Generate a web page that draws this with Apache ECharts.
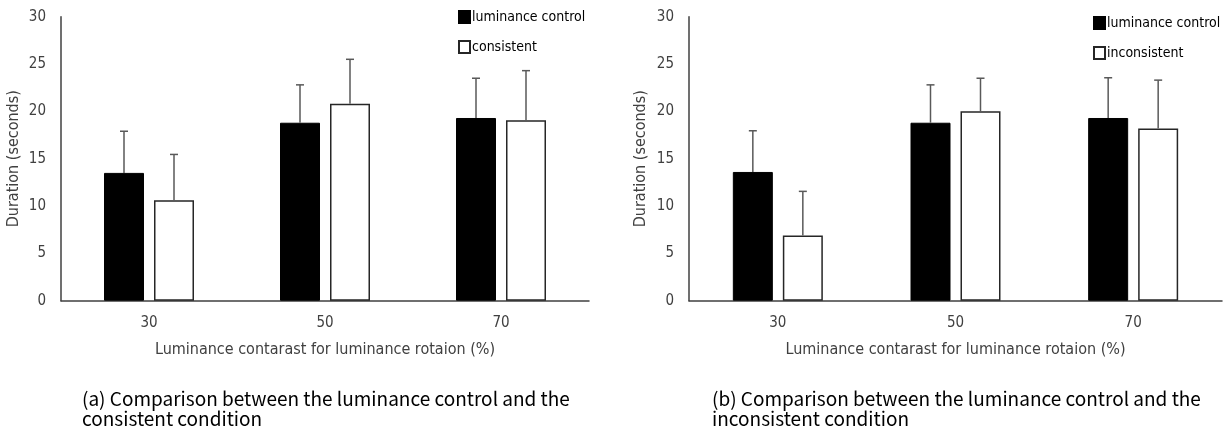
<!DOCTYPE html>
<html>
<head>
<meta charset="utf-8">
<script src="https://cdn.jsdelivr.net/npm/echarts@6/dist/echarts.min.js"></script>
<style>
html,body{margin:0;padding:0;background:#fff;}
#chart{width:1226px;height:430px;}
</style>
</head>
<body>
<div id="chart"></div>
<script>
// ---- data ----
var categories = ['30', '50', '70'];
var yTicks = [0, 5, 10, 15, 20, 25, 30];
var controlA = [13.5, 18.8, 19.3];
var controlErrA = [4.4, 4.0, 4.2];
var consistent = [10.6, 20.8, 19.05];
var consistentErr = [4.85, 4.7, 5.25];
var controlB = [13.6, 18.8, 19.3];
var controlErrB = [4.35, 4.0, 4.25];
var inconsistent = [6.9, 20.0, 18.2];
var inconsistentErr = [4.65, 3.5, 5.1];
var xName = 'Luminance contarast for luminance rotaion (%)';
var yName = 'Duration (seconds)';
var captionA = '(a) Comparison between the luminance control and the\nconsistent condition';
var captionB = '(b) Comparison between the luminance control and the\ninconsistent condition';

// ---- styles ----
var FONT = "'DejaVu Sans Condensed','Liberation Sans',sans-serif";
var CAP_FONT = "'Noto Sans CJK JP','Noto Sans',sans-serif";
var BAR_W = 40;
var GAP = 0.25;
var AXIS_COLOR = '#404040';
var TEXT_COLOR = '#404040';
var ERR_COLOR = '#595959';

function errData(vals, errs) {
  return vals.map(function (v, i) { return [i, v, errs[i]]; });
}
function errSeries(idx, vals, errs, side) {
  return {
    type: 'custom',
    xAxisIndex: idx, yAxisIndex: idx,
    silent: true, z: 5,
    data: errData(vals, errs),
    renderItem: function (params, api) {
      var c = api.value(0), v = api.value(1), e = api.value(2);
      var p0 = api.coord([c, v]);
      var p1 = api.coord([c, v + e]);
      var off = side * BAR_W * (1 + GAP) / 2;
      var x = p0[0] + off;
      var cap = 4;
      var st = { stroke: ERR_COLOR, lineWidth: 1.5 };
      return {
        type: 'group',
        children: [
          { type: 'line', shape: { x1: x, y1: p0[1], x2: x, y2: p1[1] }, style: st },
          { type: 'line', shape: { x1: x - cap, y1: p1[1], x2: x + cap, y2: p1[1] }, style: st }
        ]
      };
    }
  };
}
function xAxisCfg(idx) {
  return {
    type: 'category', gridIndex: idx, data: categories,
    axisLine: { lineStyle: { color: AXIS_COLOR, width: 1.5 } },
    axisTick: { show: false },
    axisLabel: { color: TEXT_COLOR, fontSize: 15, fontFamily: FONT, margin: 15 },
    name: xName, nameLocation: 'middle', nameGap: 41,
    nameTextStyle: { color: TEXT_COLOR, fontSize: 16, fontFamily: FONT }
  };
}
function yAxisCfg(idx, gap) {
  return {
    type: 'value', gridIndex: idx, min: 0, max: 30, interval: 5,
    axisLine: { show: true, lineStyle: { color: AXIS_COLOR, width: 1.5 } },
    axisTick: { show: false },
    splitLine: { show: false },
    axisLabel: { color: TEXT_COLOR, fontSize: 15, fontFamily: FONT, margin: 15,
      formatter: function (v) { return yTicks.indexOf(v) >= 0 ? String(v) : ''; } },
    name: yName, nameLocation: 'middle', nameGap: gap, nameRotate: 90,
    nameTextStyle: { color: TEXT_COLOR, fontSize: 16, fontFamily: FONT }
  };
}
var blackStyle = { color: '#000000', borderColor: '#000000', borderWidth: 1 };
var whiteStyle = { color: '#ffffff', borderColor: '#262626', borderWidth: 1.5 };
var capStyle = { fontFamily: CAP_FONT, fontSize: 19, fontWeight: 'normal', color: '#000', lineHeight: 20 };

var option = {
  backgroundColor: '#ffffff',
  animation: false,
  title: [
    { text: captionA, left: 82, top: 389, padding: 0, textStyle: capStyle },
    { text: captionB, left: 712, top: 389, padding: 0, textStyle: capStyle }
  ],
  legend: [
    { orient: 'vertical', left: 453, top: 5, itemGap: 16, itemWidth: 11, itemHeight: 12,
      icon: 'rect', data: ['luminance control', 'consistent'],
      textStyle: { fontFamily: FONT, fontSize: 14, color: '#000', padding: [0, 0, 0, -3] } },
    { orient: 'vertical', left: 1088, top: 11, itemGap: 16, itemWidth: 11, itemHeight: 12,
      icon: 'rect', data: ['luminance control ', 'inconsistent'],
      textStyle: { fontFamily: FONT, fontSize: 14, color: '#000', padding: [0, 0, 0, -3] } }
  ],
  grid: [
    { left: 61, top: 16.7, width: 528, height: 284 },
    { left: 689, top: 16.7, width: 533, height: 284 }
  ],
  xAxis: [xAxisCfg(0), xAxisCfg(1)],
  yAxis: [yAxisCfg(0, 39), yAxisCfg(1, 40)],
  series: [
    { name: 'luminance control', type: 'bar', xAxisIndex: 0, yAxisIndex: 0,
      data: controlA, barWidth: BAR_W, barGap: '25%', itemStyle: blackStyle },
    { name: 'consistent', type: 'bar', xAxisIndex: 0, yAxisIndex: 0,
      data: consistent, barWidth: BAR_W, barGap: '25%', itemStyle: whiteStyle },
    { name: 'luminance control ', type: 'bar', xAxisIndex: 1, yAxisIndex: 1,
      data: controlB, barWidth: BAR_W, barGap: '25%', itemStyle: blackStyle },
    { name: 'inconsistent', type: 'bar', xAxisIndex: 1, yAxisIndex: 1,
      data: inconsistent, barWidth: BAR_W, barGap: '25%', itemStyle: whiteStyle },
    errSeries(0, controlA, controlErrA, -1),
    errSeries(0, consistent, consistentErr, 1),
    errSeries(1, controlB, controlErrB, -1),
    errSeries(1, inconsistent, inconsistentErr, 1)
  ]
};
var chart = echarts.init(document.getElementById('chart'), null, { renderer: 'canvas' });
chart.setOption(option);
</script>
</body>
</html>
